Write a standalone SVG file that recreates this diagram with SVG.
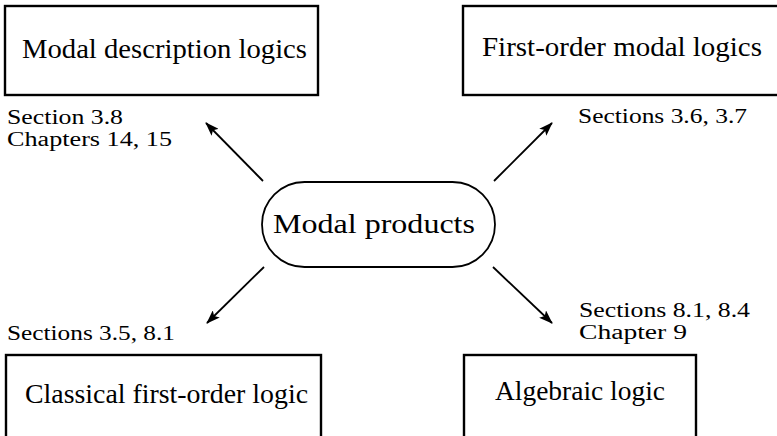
<svg xmlns="http://www.w3.org/2000/svg" width="777" height="436" viewBox="0 0 777 436">
<style>
.box{fill:none;stroke:#000;stroke-width:2.4}
.pill{fill:none;stroke:#000;stroke-width:1.8}
.lbl{font-family:"Liberation Serif","Times New Roman",serif;font-size:27px;fill:#000}
.sm{font-family:"Liberation Serif","Times New Roman",serif;font-size:20.5px;fill:#000}
.arr{stroke:#000;stroke-width:1.8;fill:none;marker-end:url(#ah)}
</style>
<defs>
<marker id="ah" markerUnits="userSpaceOnUse" markerWidth="14" markerHeight="10" refX="13" refY="5" orient="auto">
<path d="M0,0 L14,5 L0,10 L3,5 Z" fill="#000"/>
</marker>
</defs>
<rect width="777" height="436" fill="#fff"/>
<g id="connectors">
<line class="arr" x1="263" y1="181" x2="206" y2="123"/>
<line class="arr" x1="494" y1="181" x2="552" y2="123"/>
<line class="arr" x1="264" y1="267" x2="207" y2="323"/>
<line class="arr" x1="493" y1="267" x2="552" y2="323"/>
</g>
<g id="modal-description-logics">
<rect class="box" x="5" y="6" width="313" height="89"/>
<text class="lbl" x="22" y="58" textLength="285" lengthAdjust="spacingAndGlyphs">Modal description logics</text>
<text class="sm" x="7" y="124" textLength="116" lengthAdjust="spacingAndGlyphs">Section 3.8</text>
<text class="sm" x="7" y="146" textLength="165" lengthAdjust="spacingAndGlyphs">Chapters 14, 15</text>
</g>
<g id="first-order-modal-logics">
<rect class="box" x="463" y="6" width="318" height="89"/>
<text class="lbl" x="482" y="56" textLength="280" lengthAdjust="spacingAndGlyphs">First-order modal logics</text>
<text class="sm" x="578" y="123" textLength="169" lengthAdjust="spacingAndGlyphs">Sections 3.6, 3.7</text>
</g>
<g id="modal-products">
<rect class="pill" x="262" y="182" width="233" height="85" rx="42.5" ry="42.5"/>
<text class="lbl" x="273" y="233" textLength="202" lengthAdjust="spacingAndGlyphs">Modal products</text>
</g>
<g id="classical-first-order-logic">
<text class="sm" x="7" y="340" textLength="168" lengthAdjust="spacingAndGlyphs">Sections 3.5, 8.1</text>
<rect class="box" x="6" y="355" width="315" height="90"/>
<text class="lbl" x="25" y="403" textLength="283" lengthAdjust="spacingAndGlyphs">Classical first-order logic</text>
</g>
<g id="algebraic-logic">
<text class="sm" x="579" y="317" textLength="171" lengthAdjust="spacingAndGlyphs">Sections 8.1, 8.4</text>
<text class="sm" x="579" y="339" textLength="108" lengthAdjust="spacingAndGlyphs">Chapter 9</text>
<rect class="box" x="464" y="355" width="232" height="90"/>
<text class="lbl" x="495" y="400" textLength="170" lengthAdjust="spacingAndGlyphs">Algebraic logic</text>
</g>
</svg>
